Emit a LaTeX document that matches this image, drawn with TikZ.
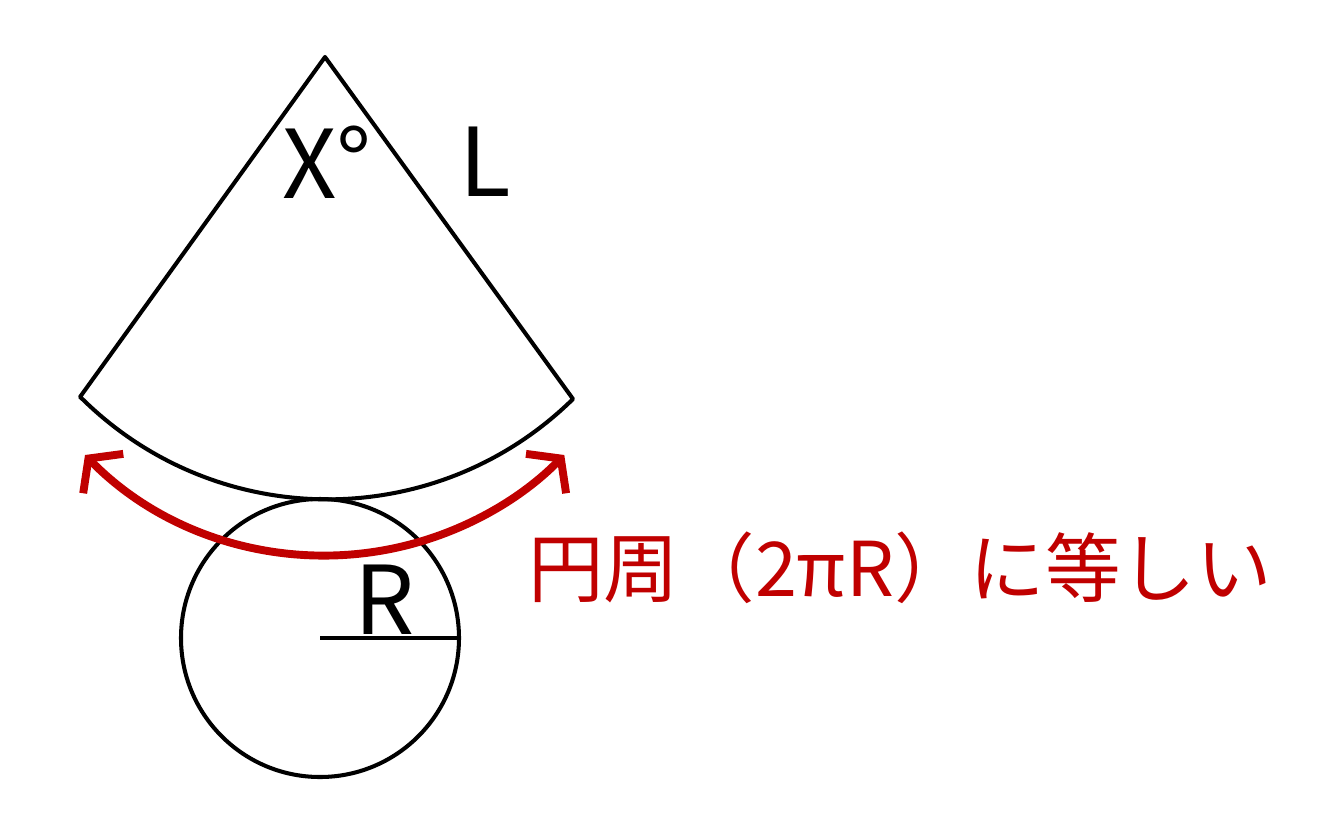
\documentclass[tikz,border=0pt]{standalone}
\usepackage{fontspec}
\setmainfont{Noto Sans CJK JP}
\usetikzlibrary{arrows.meta}
\definecolor{arcred}{RGB}{192,0,0}
\begin{document}
\begin{tikzpicture}[x=0.02cm,y=-0.02cm,
    outline/.style={draw=black, line width=2.3pt, line join=round},
    bigtext/.style={font=\fontsize{54}{56}\selectfont, inner sep=0pt},
    redtext/.style={font=\fontsize{43}{46}\selectfont, text=arcred, inner sep=0pt}]

  \useasboundingbox (0,0) rectangle (1333,833);

  % sector
  \coordinate (apex) at (325,57);
  \coordinate (left) at (80,397);
  \draw[outline] (left) -- (apex) -- (573,399) arc[start angle=45.5, end angle=134.4, radius=350] -- cycle;

  % base circle
  \coordinate (ctr) at (320,638);
  \draw[outline] (ctr) circle[radius=139];
  \coordinate (rim) at (459,638);
  \draw[outline] (ctr) -- (rim);

  % labels
  \node[bigtext] (angle) at (327,162) {X°};
  \node[bigtext] (slant) at (485,162) {L};
  \node[bigtext] (radius) at (385,600) {R};

  % equal-length arrow
  \coordinate (arrowstart) at (85,455);
  \draw[arcred, line width=4.5pt, {Straight Barb[length=12pt,width=32pt]}-{Straight Barb[length=12pt,width=32pt]}]
    (arrowstart) arc[start angle=135.5, end angle=44.5, radius=336];
  \node[redtext, anchor=west] (note) at (528,568) {円周（2πR）に等しい};
\end{tikzpicture}
\end{document}
